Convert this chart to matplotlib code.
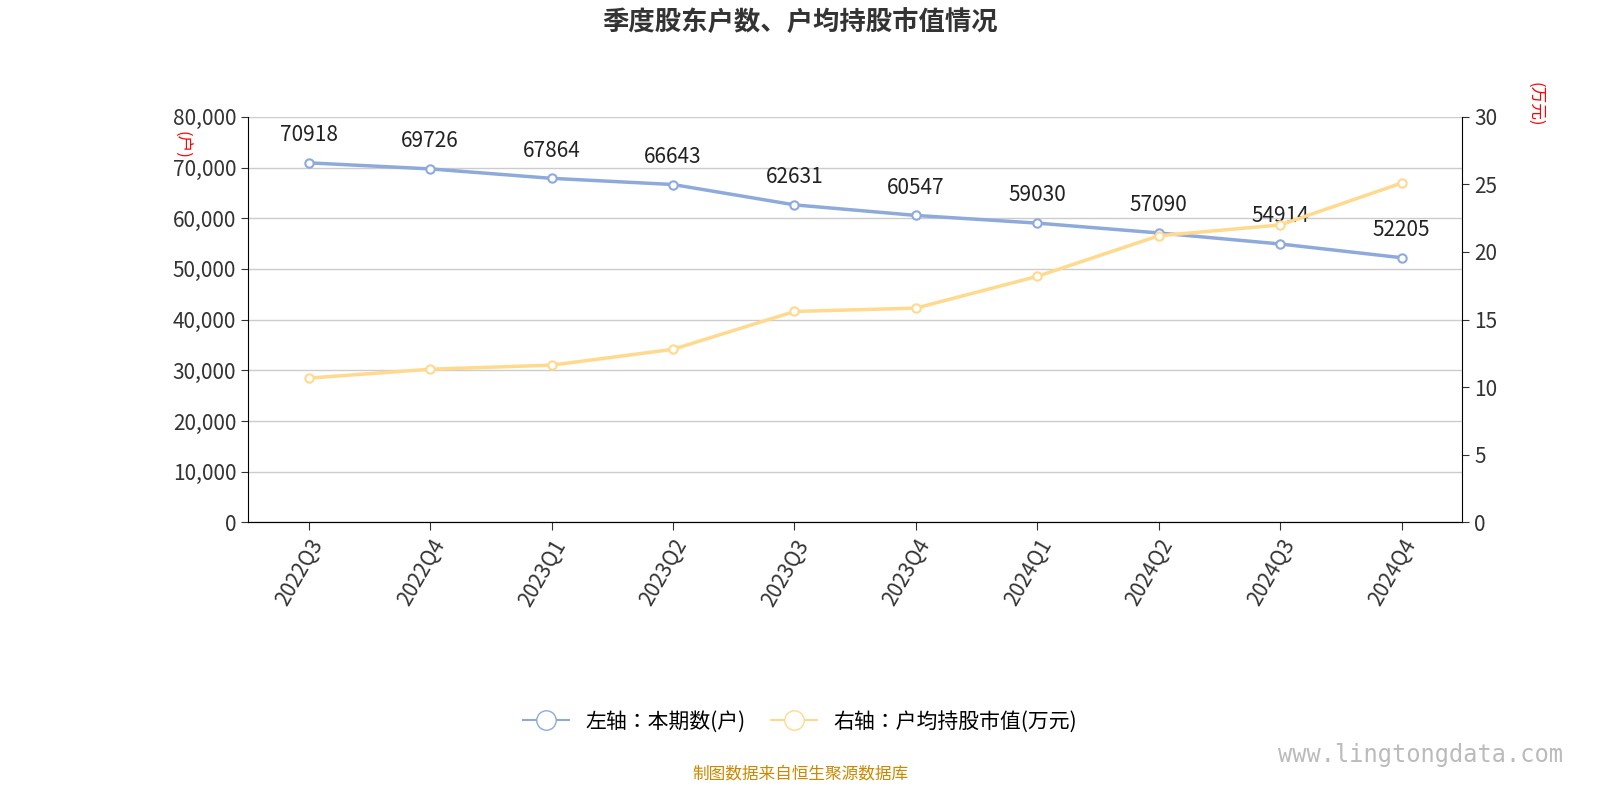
import matplotlib.pyplot as plt
from matplotlib import font_manager

# pick whatever CJK font the system actually has registered
cjk = [f.name for f in font_manager.fontManager.ttflist if 'CJK' in f.name]
pref = [n for n in ['Noto Sans CJK SC', 'Noto Sans CJK JP', 'Noto Sans CJK TC', 'Noto Sans CJK KR'] if n in cjk]
plt.rcParams['font.family'] = 'sans-serif'
plt.rcParams['font.sans-serif'] = (pref or cjk)[:1] + ['DejaVu Sans']

quarters = ['2022Q3', '2022Q4', '2023Q1', '2023Q2', '2023Q3', '2023Q4',
            '2024Q1', '2024Q2', '2024Q3', '2024Q4']
holders = [70918, 69726, 67864, 66643, 62631, 60547, 59030, 57090, 54914, 52205]
avg_value = [10.67, 11.33, 11.63, 12.8, 15.6, 15.85, 18.2, 21.2, 22.0, 25.1]

blue = '#8eaadb'
yellow = '#ffd98e'

fig = plt.figure(figsize=(16, 8), dpi=100)
ax = fig.add_axes([0.155, 0.347, 0.759, 0.507])
ax2 = ax.twinx()

x = range(len(quarters))
ax.plot(x, holders, color=blue, lw=2.5, marker='o', ms=6, mfc='white', mec=blue, mew=1.5, zorder=3)
ax2.plot(x, avg_value, color=yellow, lw=2.5, marker='o', ms=6, mfc='white', mec=yellow, mew=1.5, zorder=2)
for i, v in enumerate(holders):
    ax.annotate(str(v), (i, v), xytext=(0, 12), textcoords='offset points',
                ha='center', va='bottom', fontsize=15, color='#222222')

ax.set_xlim(-0.5, len(quarters) - 0.5)
ax.set_ylim(0, 80000)
ax2.set_ylim(0, 30)
ax.set_yticks(range(0, 80001, 10000))
ax.set_yticklabels([f'{v:,}' for v in range(0, 80001, 10000)])
ax2.set_yticks(range(0, 31, 5))
ax.set_xticks(x)
ax.set_xticklabels(quarters, rotation=60, ha='right', rotation_mode='anchor')
ax.grid(axis='y', color='#cccccc', lw=1)
ax.set_axisbelow(True)
for a in (ax, ax2):
    a.spines['top'].set_visible(False)
    a.tick_params(labelsize=15, colors='#333333', length=5)
ax.spines['right'].set_visible(False)
ax2.spines['left'].set_visible(False)
ax.tick_params(axis='x', length=6)

ax.text(-0.055, 0.93, '(户)', transform=ax.transAxes, rotation=-90, color='red',
        fontsize=12, ha='center', va='center')
ax2.text(1.06, 1.03, '(万元)', transform=ax.transAxes, rotation=-90, color='red',
         fontsize=12, ha='center', va='center')

fig.text(0.5, 0.972, '季度股东户数、户均持股市值情况', ha='center', va='center',
         fontsize=19, fontweight='bold', color='#333333')

ax.plot([], [], color=blue, lw=1.5, marker='o', ms=14, mfc='white', mec=blue, label='左轴：本期数(户)')
ax.plot([], [], color=yellow, lw=1.5, marker='o', ms=14, mfc='white', mec=yellow, label='右轴：户均持股市值(万元)')
fig.legend(handles=ax.get_lines()[-2:], loc='center', bbox_to_anchor=(0.5, 0.098), ncol=2,
           frameon=False, fontsize=15, handlelength=2.2, columnspacing=1.2)

fig.text(0.5, 0.032, '制图数据来自恒生聚源数据库', ha='center', va='center', fontsize=12, color='#cc8800')
fig.text(0.888, 0.056, 'www.lingtongdata.com', ha='center', va='center', fontsize=17,
         color='#bbbbbb', family='DejaVu Sans Mono')

fig.savefig('out.png', dpi=100)
